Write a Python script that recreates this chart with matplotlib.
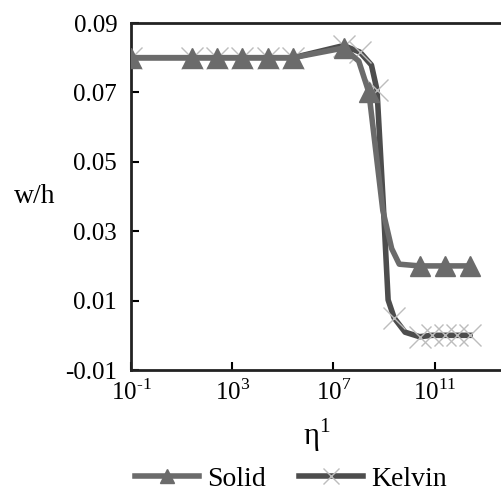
import matplotlib
matplotlib.use("Agg")
import matplotlib.pyplot as plt
import numpy as np

plt.rcParams['font.family'] = ['Liberation Serif', 'DejaVu Serif']
plt.rcParams['mathtext.fontset'] = 'custom'
plt.rcParams['mathtext.rm'] = 'Liberation Serif'
plt.rcParams['axes.unicode_minus'] = False

# Solid model: log10(eta) and w/h
solid_logx = [-1.0, 1.4, 2.4, 3.4, 4.4, 5.4, 7.4, 8.0, 8.4, 8.95, 9.3, 9.6, 10.4, 11.4, 12.4]
solid_y = [0.080, 0.080, 0.080, 0.080, 0.080, 0.080, 0.0828, 0.079, 0.0700, 0.036, 0.025, 0.0205, 0.0200, 0.0200, 0.0200]
solid_marks = [0, 1, 2, 3, 4, 5, 6, 8, 12, 13, 14]

# Kelvin model
kelvin_logx = [-1.0, 1.4, 2.4, 3.4, 4.4, 5.4, 7.4, 8.05, 8.5, 8.72, 8.96, 9.16, 9.4, 9.83, 10.4, 10.9, 11.4, 11.9, 12.4]
kelvin_y = [0.080, 0.080, 0.080, 0.080, 0.080, 0.080, 0.0835, 0.0816, 0.0779, 0.0707, 0.039, 0.0102, 0.0050, 0.0009, -0.0004, 0.0, 0.0, 0.0, 0.0]
kelvin_marks = [0, 1, 2, 3, 4, 5, 6, 7, 9, 12, 14, 15, 16, 17, 18]

yticks = [0.09, 0.07, 0.05, 0.03, 0.01, -0.01]
ytick_labels = ['0.09', '0.07', '0.05', '0.03', '0.01', '-0.01']
xtick_exp = [-1, 3, 7, 11]

fig = plt.figure(figsize=(5.02, 4.97), dpi=100)
ax = fig.add_axes([0.261, 0.2555, 0.739, 0.6982])

sx = 10 ** np.array(solid_logx)
kx = 10 ** np.array(kelvin_logx)

ax.plot(kx, kelvin_y, color='#4d4d4d', lw=4, marker='x', markevery=kelvin_marks,
        markersize=16, markeredgecolor='#bdbdbd', markeredgewidth=1.0,
        label='Kelvin', zorder=2)
ax.plot(sx, solid_y, color='#6b6b6b', lw=4, marker='^', markevery=solid_marks,
        markersize=15, markerfacecolor='#6b6b6b', markeredgecolor='#6b6b6b',
        label='Solid', zorder=3)

ax.set_xscale('log')
ax.set_xlim(10 ** -1, 10 ** 13.66)
ax.set_ylim(-0.01, 0.09)
ax.set_xticks([10.0 ** e for e in xtick_exp])
ax.set_xticklabels(['10$^{\\text{%d}}$' % e for e in xtick_exp])
ax.minorticks_off()
ax.set_yticks(yticks)
ax.set_yticklabels(ytick_labels)
ax.tick_params(direction='in', length=6, width=1.5, labelsize=18, pad=10)
ax.tick_params(axis='x', pad=7)

for s in ['left', 'bottom', 'top']:
    ax.spines[s].set_linewidth(2)
    ax.spines[s].set_color('#222222')
ax.spines['right'].set_visible(False)

ax.set_ylabel('w/h', fontsize=20, rotation=0, labelpad=22, va='center')
ax.set_xlabel('η$^{1}$', fontsize=22, labelpad=8)

h, l = ax.get_legend_handles_labels()
fig.legend([h[1], h[0]], [l[1], l[0]], loc='lower center', ncol=2,
           bbox_to_anchor=(0.58, -0.04), frameon=False, fontsize=20,
           handlelength=2.3, columnspacing=1.2, handletextpad=0.3, markerscale=0.7)

fig.savefig('out.png', dpi=100)
